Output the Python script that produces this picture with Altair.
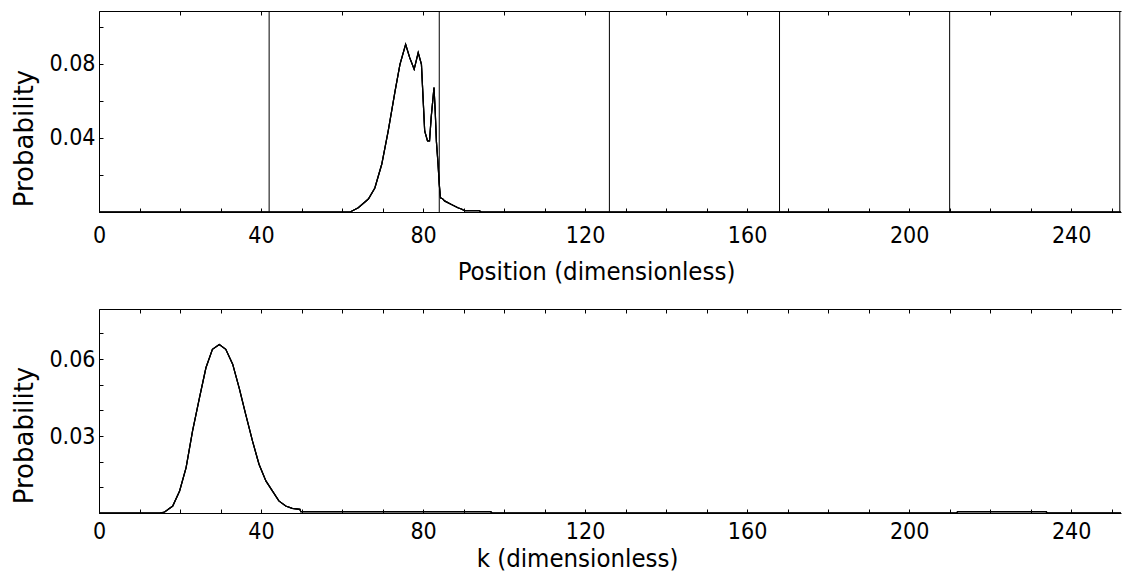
import altair as alt
import pandas as pd

# ---------------- data ----------------
pos_x = [0, 62.0, 64.0, 66.5, 68.1, 69.8, 71.4, 73.1, 74.3, 75.7, 76.7, 77.8, 78.8,
         79.6, 80.0, 80.4, 81.1, 81.6, 82.0, 82.7, 83.0, 83.3, 83.7, 84.0, 84.3,
         84.8, 85.3, 87.0, 88.6, 89.6, 90.2, 93.9, 94.3, 252.3]
pos_p = [0, 0.0, 0.0023, 0.0070, 0.0130, 0.0258, 0.0438, 0.0654, 0.0798, 0.0906,
         0.0834, 0.0771, 0.0861, 0.0798, 0.0618, 0.0438, 0.0384, 0.0384, 0.0510,
         0.0672, 0.0546, 0.0380, 0.0260, 0.0150, 0.0077, 0.0072, 0.0060, 0.0041,
         0.0023, 0.0015, 0.0007, 0.0007, 0.0, 0.0]

k_x = [0, 15.0, 16.2, 18.2, 19.9, 21.5, 23.1, 24.8, 26.4, 28.0, 29.7, 31.3, 33.0,
       34.6, 36.2, 37.9, 39.5, 41.2, 42.8, 44.4, 46.1, 47.7, 49.6, 49.8, 96.7,
       97.0, 211.7, 212.0, 233.8, 234.1, 252.3]
k_p = [0, 0.0, 0.0004, 0.0027, 0.0086, 0.0177, 0.0320, 0.0449, 0.0566, 0.0638,
       0.0657, 0.0638, 0.0580, 0.0488, 0.0385, 0.0280, 0.0190, 0.0125, 0.0086,
       0.0047, 0.0027, 0.0018, 0.0014, 0.0005, 0.0005, 0.0, 0.0, 0.0005, 0.0005,
       0.0, 0.0]

vlines = [42, 84, 126, 168, 210, 252]

x_label_values = [0, 40, 80, 120, 160, 200, 240]
x_minor_ticks = [0, 10, 20, 30, 40, 50, 60, 70, 80, 90, 100, 110, 120, 130, 140,
                 150, 160, 170, 180, 190, 200, 210, 220, 230, 240, 250]
x_top_ticks_pos = [0, 20, 40, 60, 80, 100, 120, 140, 160, 180, 200, 220, 240]

y_labels_pos = [0.04, 0.08]
y_ticks_pos = [0.02, 0.04, 0.06, 0.08, 0.10]
y_labels_k = [0.03, 0.06]
y_ticks_k = [0.01, 0.02, 0.03, 0.04, 0.05, 0.06, 0.07]

# ---------------- layout constants ----------------
W = 1022
H1 = 201
H2 = 204
XMAX = 252.3
NARROW = "DejaVu Sans Condensed, Liberation Sans Narrow, sans-serif"
WIDE = "DejaVu Sans"

df_pos = pd.DataFrame({"x": pos_x, "p": pos_p})
df_k = pd.DataFrame({"x": k_x, "p": k_p})
df_v = pd.DataFrame({"x": vlines})


def label_x_axis(title, title_x, title_y, pad):
    return alt.Axis(values=x_label_values, orient="bottom", ticks=False, tickSize=0,
                    domain=True, domainColor="black", domainWidth=1, grid=False,
                    labelFont=NARROW, labelFontSize=23, labelColor="black",
                    labelPadding=pad, labelFlush=False, labelOverlap=False,
                    title=title, titleFont=NARROW, titleFontSize=25.5,
                    titleFontWeight="normal", titleColor="black", titleX=title_x,
                    titleY=title_y, titleAlign="center", titleBaseline="alphabetic")


def label_y_axis(values, title_y):
    return alt.Axis(values=values, orient="left", ticks=False, tickSize=0,
                    domain=True, domainColor="black", domainWidth=1, grid=False,
                    labelFont=NARROW, labelFontSize=23, labelColor="black",
                    labelPadding=4, labelOverlap=False, format=".2f",
                    title="Probability", titleFont=WIDE, titleFontSize=26,
                    titleFontWeight="normal", titleColor="black", titleAngle=270,
                    titleX=-67, titleY=title_y, titleAlign="center",
                    titleBaseline="alphabetic")


def inner_x_bottom(H):
    return alt.Axis(values=x_minor_ticks, orient="top", offset=-H, ticks=True,
                    tickSize=4, tickColor="black", labels=False, domain=False,
                    grid=False)


def inner_x_top(H, values):
    return alt.Axis(values=values, orient="bottom", offset=-H, ticks=True,
                    tickSize=4, tickColor="black", labels=False, domain=True,
                    domainColor="black", domainWidth=1, grid=False)


def inner_y(values):
    return alt.Axis(values=values, orient="right", offset=-W, ticks=True,
                    tickSize=4, tickColor="black", labels=False, domain=False,
                    grid=False)


def panel(df, H, ymax, ylabels, yticks, top_ticks, title, title_x, title_y,
          label_pad, ytitle_y, with_vlines):
    xs = alt.Scale(domain=[0, XMAX], nice=False, zero=False)
    ys = alt.Scale(domain=[0, ymax], nice=False)
    line = alt.Chart(df).mark_line(color="black", strokeWidth=1.2).encode(
        x=alt.X("x:Q", scale=xs, axis=label_x_axis(title, title_x, title_y, label_pad)),
        y=alt.Y("p:Q", scale=ys, axis=label_y_axis(ylabels, ytitle_y)),
    )
    line2 = alt.Chart(df).mark_line(color="black", strokeWidth=1.2).encode(
        x=alt.X("x:Q", scale=xs, axis=inner_x_bottom(H), title=None),
        y=alt.Y("p:Q", scale=ys, axis=inner_y(yticks), title=None),
    )
    line3 = alt.Chart(df).mark_line(color="black", strokeWidth=1.2).encode(
        x=alt.X("x:Q", scale=xs, axis=inner_x_top(H, top_ticks), title=None),
        y=alt.Y("p:Q", scale=ys, axis=None),
    )
    layers = [line, line2, line3]
    if with_vlines:
        rules = alt.Chart(df_v).mark_rule(color="black", strokeWidth=1).encode(
            x=alt.X("x:Q", scale=xs, axis=None)
        )
        layers.append(rules)
    return alt.layer(*layers).resolve_axis(x="independent", y="independent").properties(
        width=W, height=H)


top = panel(df_pos, H1, 0.1086, y_labels_pos, y_ticks_pos, x_top_ticks_pos,
            "Position (dimensionless)", 497, 67, 12, 127, True)
bottom = panel(df_k, H2, 0.0795, y_labels_k, y_ticks_k, x_minor_ticks,
               "k (dimensionless)", 478, 53, 7, 126, False)

chart = alt.vconcat(top, bottom, spacing=97, bounds="flush").properties(
    padding={"left": 3, "top": 2, "right": 0, "bottom": 0},
    background="white",
).configure_view(strokeOpacity=0)

chart.save("out.html", embed_options={"renderer": "svg", "actions": False})
